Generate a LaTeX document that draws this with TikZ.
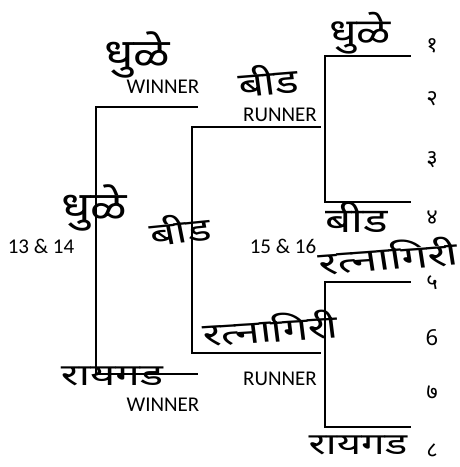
\documentclass[tikz,border=0pt]{standalone}
\usepackage{fontspec}
\usepackage{tikz}
\newfontfamily\devfont[Script=Devanagari]{Noto Sans}
\newfontfamily\latinfont{Carlito}

\begin{document}
\begin{tikzpicture}[x=1pt,y=-1pt,
    bracket/.style={line width=1.5pt,line cap=rect},
    team/.style={font=\devfont\fontsize{#1}{#1}\selectfont,inner sep=0pt},
    team/.default=34,
    seed/.style={font=\devfont\fontsize{22}{22}\selectfont,inner sep=0pt},
    tag/.style={font=\latinfont\fontsize{21}{21}\selectfont,inner sep=0pt}
  ]
    \useasboundingbox (0,0) rectangle (460,467);
    % brackets: name / left x / right x / top y / bottom y
    \foreach \nm/\xl/\xr/\yt/\yb in {win/96/197/107/374,run/192/320/127/353,up/325/410/56/202,lo/325/410/282/427}{
      \coordinate (\nm-t) at (\xr,\yt);
      \coordinate (\nm-c) at (\xl,\yb);
      \coordinate (\nm-b) at (\xr,\yb);
      \draw[bracket] (\nm-t) -| (\nm-c) -- (\nm-b);
    }
    % seeds
    \foreach \s/\y in {१/46,२/99,३/160,४/218,५/283,6/338,७/393,८/451}{
      \node[seed] (s\y) at (432,\y) {\s};
    }
    % right column
    \node[team=36,xscale=1.25] (t1) at (360,33) {धुळे};
    \node[team=34,xscale=1.35] (t4) at (357,217) {बीड};
    \node[team=32,xscale=1.45,rotate=6] (t5) at (388,256) {रत्नागिरी};
    \node[team=30,xscale=1.4] (t8) at (358,445) {रायगड};
    % runner
    \node[team=34,xscale=1.3,rotate=6] (r1) at (268,80) {बीड};
    \node[tag] (rtag1) at (280,115) {RUNNER};
    \node[team=32,xscale=1.4,rotate=5] (r2) at (270,328) {रत्नागिरी};
    \node[tag] (rtag2) at (280,379) {RUNNER};
    \node[tag] (rnum) at (283,246) {15 \& 16};
    \node[team=32,xscale=1.4,rotate=8] (rmid) at (180,229) {बीड};
    % winner
    \node[team=40,xscale=1.2] (w1) at (137,55) {धुळे};
    \node[tag] (wtag1) at (163,87) {WINNER};
    \node[team=30,xscale=1.45] (w2) at (112,376) {रायगड};
    \node[tag] (wtag2) at (163,405) {WINNER};
    \node[tag] (wnum) at (41,246) {13 \& 14};
    \node[team=40,xscale=1.2] (wmid) at (94,208) {धुळे};
  \end{tikzpicture}
\end{document}
